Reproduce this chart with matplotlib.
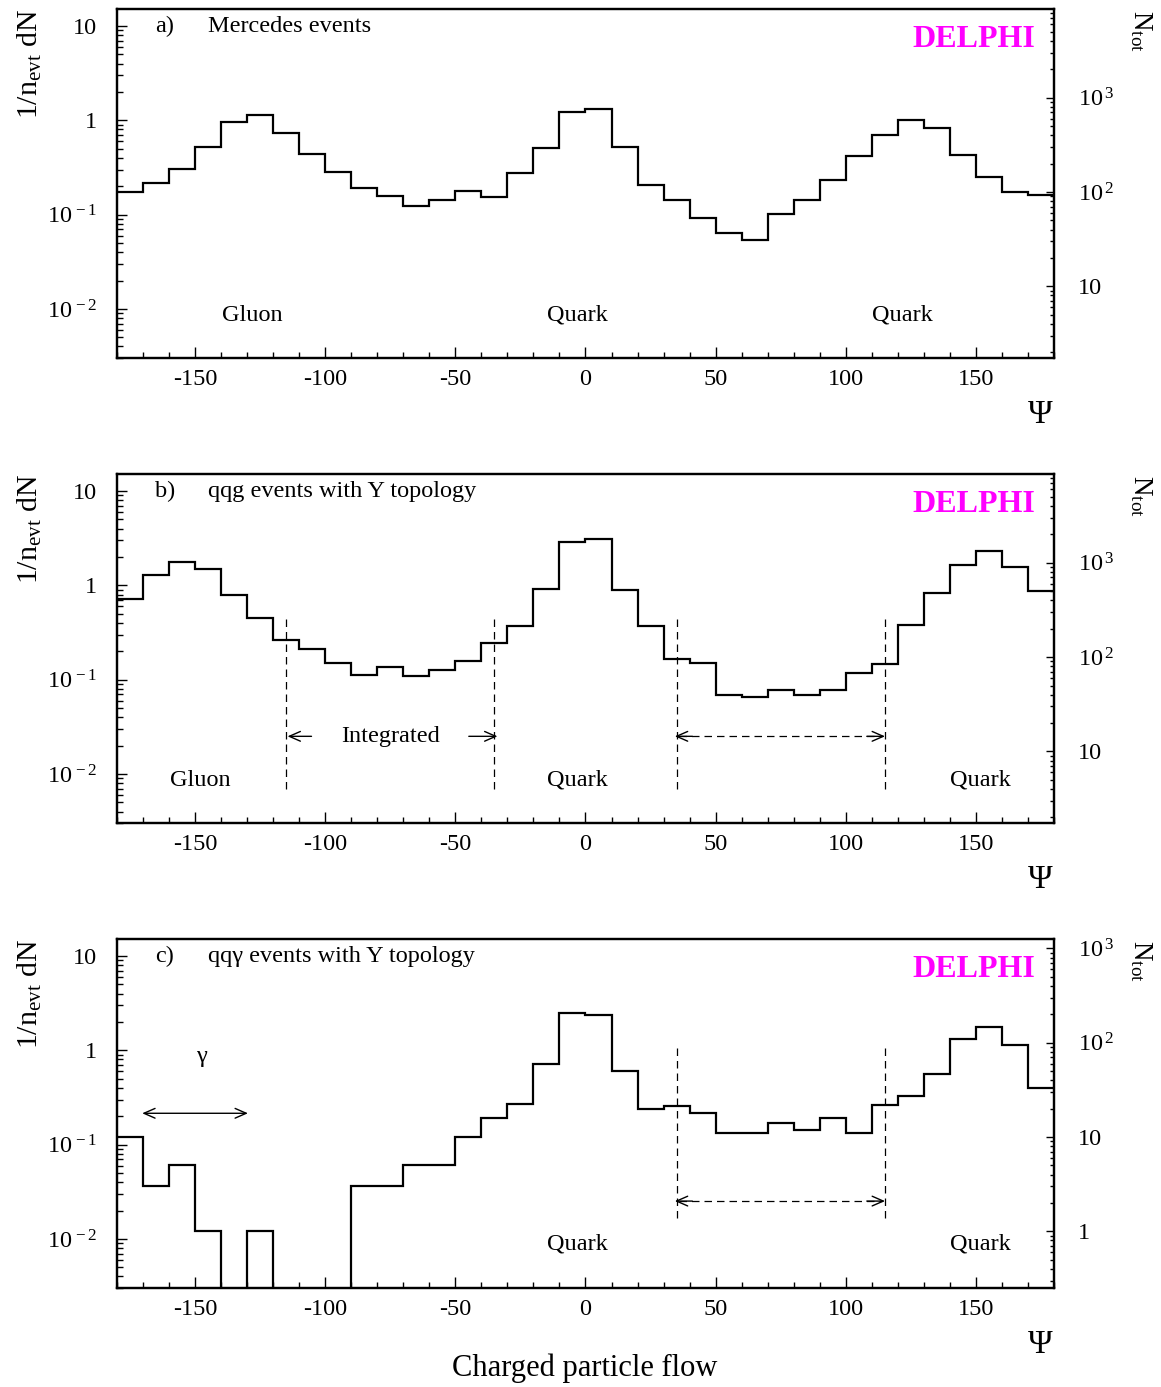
"""Charged particle flow in Mercedes, qqg and qq-gamma events (DELPHI)."""
import matplotlib

matplotlib.use("Agg")
import matplotlib.pyplot as plt
import numpy as np
from matplotlib.ticker import LogLocator, MultipleLocator, NullFormatter

plt.rcParams["font.family"] = ["Liberation Serif", "DejaVu Serif"]
plt.rcParams["mathtext.fontset"] = "custom"
plt.rcParams["mathtext.rm"] = "Liberation Serif"
plt.rcParams["mathtext.it"] = "Liberation Serif:italic"
plt.rcParams["axes.unicode_minus"] = False

# bin edges in degrees (10 degree bins)
psi_edges = np.arange(-180, 181, 10)

# 1/n_evt dN per bin
mercedes = [0.175, 0.215, 0.307, 0.521, 0.953, 1.15, 0.739, 0.44, 0.285,
            0.191, 0.157, 0.124, 0.142, 0.179, 0.155, 0.274, 0.508, 1.23,
            1.33, 0.521, 0.206, 0.143, 0.0913, 0.0638, 0.0534, 0.102, 0.143,
            0.231, 0.415, 0.703, 1.02, 0.828, 0.428, 0.249, 0.174, 0.161]
qqg = [0.71, 1.30, 1.77, 1.51, 0.80, 0.455, 0.266, 0.213, 0.152,
       0.112, 0.135, 0.109, 0.126, 0.158, 0.245, 0.371, 0.907, 2.92,
       3.09, 0.892, 0.368, 0.167, 0.150, 0.0689, 0.0656, 0.0785, 0.0689,
       0.0785, 0.118, 0.146, 0.383, 0.836, 1.64, 2.31, 1.58, 0.88]
qqgamma = [0.1216, 0.0364, 0.0603, 0.01213, 0.0, 0.01213, 0.0, 0.0, 0.0,
           0.0364, 0.0364, 0.0603, 0.0603, 0.1216, 0.193, 0.27, 0.716, 2.49,
           2.37, 0.604, 0.241, 0.255, 0.218, 0.132, 0.132, 0.171, 0.144,
           0.191, 0.132, 0.266, 0.325, 0.557, 1.33, 1.75, 1.15, 0.395]

# number of events per sample (scale of the right-hand N_tot axis)
n_events = [576, 576, 83]

panel_tags = ["a)", "b)", "c)"]
panel_titles = ["Mercedes events", "qqg events with Y topology",
                "qq\u03b3 events with Y topology"]

left_ticks = [0.01, 0.1, 1, 10]
left_labels = [r"$\mathregular{10^{\,-2}}$", r"$\mathregular{10^{\,-1}}$", "1", "10"]
right_ticks = [1, 10, 100, 1000]
right_labels = ["1", "10", r"$\mathregular{10^{\,2}}$", r"$\mathregular{10^{\,3}}$"]

YMIN, YMAX = 0.003, 15.0
FS = 17.5


def arrow(ax, x0, x1, y, style="->", ls="-"):
    ax.annotate("", xy=(x1, y), xytext=(x0, y),
                arrowprops=dict(arrowstyle=style + ",head_length=0.8,head_width=0.35",
                                lw=1.0, color="black", linestyle=ls,
                                shrinkA=0, shrinkB=0))


def draw_panel(fig, bottom, values, n_evt, tag, title):
    ax = fig.add_axes([0.1005, bottom, 0.8076, 0.2515])
    ax.stairs(values, psi_edges, baseline=None, color="black", lw=1.6)
    ax.set_yscale("log")
    ax.set_xlim(-180, 180)
    ax.set_ylim(YMIN, YMAX)
    for s in ax.spines.values():
        s.set_linewidth(1.6)

    ax.xaxis.set_major_locator(MultipleLocator(50))
    ax.xaxis.set_minor_locator(MultipleLocator(10))
    ax.set_yticks(left_ticks, left_labels)
    ax.yaxis.set_minor_locator(LogLocator(base=10, subs=np.arange(2, 10)))
    ax.yaxis.set_minor_formatter(NullFormatter())
    ax.tick_params(which="both", direction="in", top=False, right=False,
                   labelsize=FS, width=1.0)
    ax.tick_params(axis="x", which="major", length=8, pad=8)
    ax.tick_params(axis="x", which="minor", length=4)
    ax.tick_params(axis="y", which="major", length=7, pad=14)
    ax.tick_params(axis="y", which="minor", length=4)

    ax2 = ax.twinx()
    ax2.set_yscale("log")
    ax2.set_ylim(YMIN * n_evt, YMAX * n_evt)
    lo, hi = ax2.get_ylim()
    keep = [(t, l) for t, l in zip(right_ticks, right_labels) if lo <= t <= hi]
    ax2.set_yticks([t for t, _ in keep], [l for _, l in keep])
    ax2.yaxis.set_minor_locator(LogLocator(base=10, subs=np.arange(2, 10)))
    ax2.yaxis.set_minor_formatter(NullFormatter())
    ax2.tick_params(which="both", direction="in", labelsize=FS, width=1.0)
    ax2.tick_params(which="major", length=6, pad=17)
    ax2.tick_params(which="minor", length=3)
    for s in ax2.spines.values():
        s.set_linewidth(1.6)

    ax.text(0.0406, 0.952, tag, transform=ax.transAxes, fontsize=FS,
            va="center", ha="left")
    ax.text(0.0971, 0.952, title, transform=ax.transAxes, fontsize=FS,
            va="center", ha="left")
    ax.text(0.98, 0.915, "DELPHI", transform=ax.transAxes, fontsize=23,
            fontweight="bold", color="#ff00ff", va="center", ha="right")

    # axis titles placed around the frame
    pos = ax.get_position()
    fig.text(0.0255, pos.y1, r"1/n$_{\mathregular{evt}}$ dN", rotation=90,
             ha="center", va="top", fontsize=21.5)
    fig.text(0.9825, pos.y1 - 0.0005, r"N$_{\mathregular{tot}}$", rotation=-90,
             ha="center", va="top", fontsize=19.5)
    fig.text(pos.x1 - 0.0015, pos.y0 - 0.041, "\u03a8", ha="right",
             va="center", fontsize=24)
    return ax


def main():
    fig = plt.figure(figsize=(11.61, 13.87), dpi=100)

    bottoms = [0.7417, 0.4064, 0.0712]
    samples = [mercedes, qqg, qqgamma]
    axes = []
    for b, vals, n, tag, title in zip(bottoms, samples, n_events,
                                      panel_tags, panel_titles):
        axes.append(draw_panel(fig, b, vals, n, tag, title))

    ax_a, ax_b, ax_c = axes
    ylab = 0.0086

    # a) Mercedes
    for x, name in [(-128, "Gluon"), (-3.3, "Quark"), (121.6, "Quark")]:
        ax_a.text(x, ylab, name, fontsize=FS, ha="center", va="center")

    # b) qqg with integration windows
    for x, name in [(-148, "Gluon"), (-3.3, "Quark"), (151.6, "Quark")]:
        ax_b.text(x, ylab, name, fontsize=FS, ha="center", va="center")
    ax_b.vlines([-115, -35, 35, 115], 0.00702, 0.493, colors="black",
                linestyles=(0, (6, 4)), lw=0.9)
    y_int = 0.0251
    arrow(ax_b, -105.2, -114.4, y_int)
    arrow(ax_b, -44.8, -33.8, y_int)
    ax_b.text(-75, y_int, "Integrated", fontsize=FS, ha="center", va="center")
    ax_b.plot([36, 114], [y_int, y_int], color="black", lw=0.9,
              linestyle=(0, (6, 4)))
    arrow(ax_b, 41, 34.3, y_int)
    arrow(ax_b, 108, 115, y_int)

    # c) qq-gamma
    for x, name in [(-3.3, "Quark"), (151.6, "Quark")]:
        ax_c.text(x, 0.0088, name, fontsize=FS, ha="center", va="center")
    ax_c.vlines([35, 115], 0.01683, 1.16, colors="black",
                linestyles=(0, (6, 4)), lw=0.9)
    y_c = 0.0252
    ax_c.plot([36, 114], [y_c, y_c], color="black", lw=0.9,
              linestyle=(0, (6, 4)))
    arrow(ax_c, 41, 34.3, y_c)
    arrow(ax_c, 108, 115, y_c)
    arrow(ax_c, -170.2, -129.6, 0.215, style="<->")
    ax_c.text(-147.4, 0.85, "\u03b3", fontsize=FS, ha="center", va="center")

    fig.text(0.504, 0.0135, "Charged particle flow", ha="center",
             va="center", fontsize=22)

    fig.savefig("out.png", dpi=100)


if __name__ == "__main__":
    main()
